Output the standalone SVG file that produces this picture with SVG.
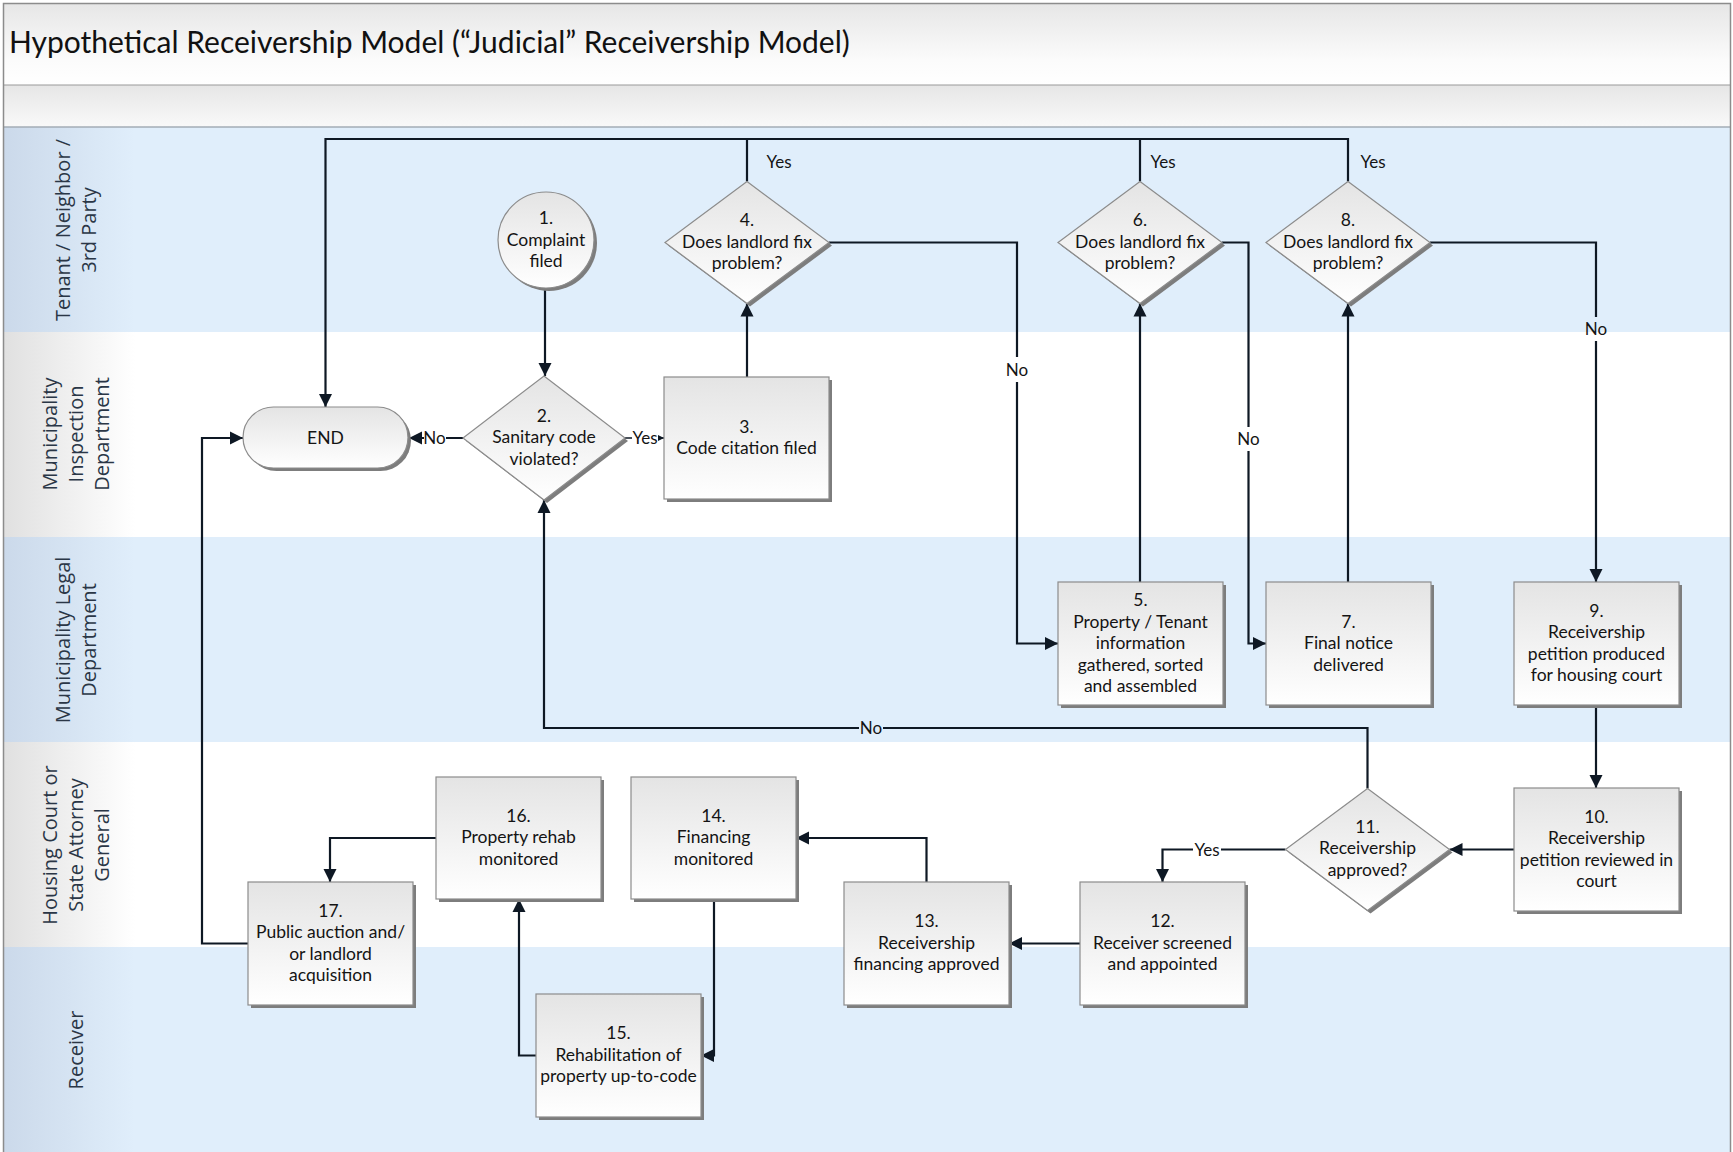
<svg xmlns="http://www.w3.org/2000/svg" width="1733" height="1152" viewBox="0 0 1733 1152">
<style>
.node{fill:url(#ng);stroke:#8c8c8c;stroke-width:1.2}
.sh{fill:#7d7d7d}
.t{font-family:Lato,'Liberation Sans',sans-serif;font-size:17.5px;fill:#141414;text-anchor:middle}
.lbl{font-family:Lato,'Liberation Sans',sans-serif;font-size:17px;fill:#141414;text-anchor:middle}
.lane{font-family:'Open Sans','DejaVu Sans',sans-serif;font-size:20px;fill:#2a3646;text-anchor:middle}
.c{fill:none;stroke:#0e1824;stroke-width:2.2}
.ca{fill:none;stroke:#0e1824;stroke-width:2.2;marker-end:url(#ah)}
.cs{fill:none;stroke:#0e1824;stroke-width:1.6;marker-end:url(#ahs)}
</style>
<defs>
<linearGradient id="ng" x1="0" y1="0" x2="0" y2="1"><stop offset="0" stop-color="#e4e4e4"/><stop offset="1" stop-color="#ffffff"/></linearGradient>
<linearGradient id="tg" x1="0" y1="0" x2="0" y2="1"><stop offset="0" stop-color="#e6e6e6"/><stop offset="0.7" stop-color="#fbfbfb"/><stop offset="1" stop-color="#ffffff"/></linearGradient>
<linearGradient id="tg2" x1="0" y1="0" x2="0" y2="1"><stop offset="0" stop-color="#e6e6e6"/><stop offset="1" stop-color="#f9f9f9"/></linearGradient>
<linearGradient id="bh" x1="0" y1="0" x2="1" y2="0"><stop offset="0" stop-color="#cbd9ea"/><stop offset="1" stop-color="#e0eefb"/></linearGradient>
<linearGradient id="wh" x1="0" y1="0" x2="1" y2="0"><stop offset="0" stop-color="#e0e0e0"/><stop offset="1" stop-color="#ffffff"/></linearGradient>
<marker id="ah" markerUnits="userSpaceOnUse" markerWidth="14" markerHeight="14" refX="13" refY="7" orient="auto"><path d="M0,0.5 L13,7 L0,13.5 Z" fill="#0e1824"/></marker>
<marker id="ahs" markerUnits="userSpaceOnUse" markerWidth="8" markerHeight="8" refX="6" refY="4" orient="auto"><path d="M0,1 L6,4 L0,7 Z" fill="#0e1824"/></marker>
</defs>

<g id="background">
<rect x="3" y="3" width="1728" height="82" fill="url(#tg)"/>
<rect x="3" y="85" width="1728" height="42" fill="url(#tg2)"/>
<rect x="3" y="127" width="1728" height="205" fill="#e0eefb"/>
<rect x="3" y="332" width="1728" height="205" fill="#ffffff"/>
<rect x="3" y="537" width="1728" height="205" fill="#e0eefb"/>
<rect x="3" y="742" width="1728" height="205" fill="#ffffff"/>
<rect x="3" y="947" width="1728" height="205" fill="#e0eefb"/>
<rect x="3" y="127" width="132" height="205" fill="url(#bh)"/>
<rect x="3" y="332" width="132" height="205" fill="url(#wh)"/>
<rect x="3" y="537" width="132" height="205" fill="url(#bh)"/>
<rect x="3" y="742" width="132" height="205" fill="url(#wh)"/>
<rect x="3" y="947" width="132" height="205" fill="url(#bh)"/>
<line x1="3" y1="85" x2="1731" y2="85" stroke="#9a9a9a" stroke-width="1.2"/>
<line x1="3" y1="127" x2="1731" y2="127" stroke="#a3acb6" stroke-width="1.5"/>
<rect x="3.5" y="3.5" width="1727" height="1152" fill="none" stroke="#8c8c8c" stroke-width="1.5"/>
<text x="9" y="53" font-family="Lato,'Liberation Sans',sans-serif" font-size="30" fill="#111">Hypothetical Receivership Model (“Judicial” Receivership Model)</text>
</g>

<g id="lanes">
<g id="lane-tenant"><text class="lane" transform="translate(70,230) rotate(-90)">Tenant / Neighbor /</text><text class="lane" transform="translate(96,230) rotate(-90)">3rd Party</text></g>
<g id="lane-inspection"><text class="lane" transform="translate(57,434) rotate(-90)">Municipality</text><text class="lane" transform="translate(83,434) rotate(-90)">Inspection</text><text class="lane" transform="translate(109,434) rotate(-90)">Department</text></g>
<g id="lane-legal"><text class="lane" transform="translate(70,640) rotate(-90)">Municipality Legal</text><text class="lane" transform="translate(96,640) rotate(-90)">Department</text></g>
<g id="lane-court"><text class="lane" transform="translate(57,845) rotate(-90)">Housing Court or</text><text class="lane" transform="translate(83,845) rotate(-90)">State Attorney</text><text class="lane" transform="translate(109,845) rotate(-90)">General</text></g>
<g id="lane-receiver"><text class="lane" transform="translate(83,1050) rotate(-90)">Receiver</text></g>
</g>

<g id="connectors">
<path class="c" d="M747,181.5 V139 M1140,181.5 V139"/>
<path class="ca" d="M1348,181.5 V139 H325.5 V407"/>
<text class="lbl" x="779" y="168">Yes</text>
<text class="lbl" x="1163" y="168">Yes</text>
<text class="lbl" x="1373" y="168">Yes</text>
<path class="ca" d="M545,288 V376"/>
<path class="ca" d="M463,438 H446 M424,438 H409"/>
<text class="lbl" x="434.5" y="444">No</text>
<path class="cs" d="M625,438 H632 M658,438 H664"/>
<text class="lbl" x="645" y="444">Yes</text>
<path class="ca" d="M747,377 V303.5"/>
<path class="ca" d="M829,242.5 H1017 V357 M1017,382 V643.5 H1058"/>
<text class="lbl" x="1017" y="376">No</text>
<path class="ca" d="M1140,582 V303.5"/>
<path class="ca" d="M1222,242.5 H1248.5 V427 M1248.5,451 V643.5 H1266"/>
<text class="lbl" x="1248.5" y="445">No</text>
<path class="ca" d="M1348,582 V303.5"/>
<path class="ca" d="M1430,242.5 H1596 V317 M1596,341 V582"/>
<text class="lbl" x="1596" y="335">No</text>
<path class="ca" d="M1596,705 V788"/>
<path class="ca" d="M1514,849.5 H1449.5"/>
<path class="ca" d="M1367.5,788.5 V728 H883 M859,728 H544 V500"/>
<text class="lbl" x="871" y="734">No</text>
<path class="ca" d="M1285.5,849.5 H1221 M1193,849.5 H1162.5 V882"/>
<text class="lbl" x="1207" y="855.5">Yes</text>
<path class="ca" d="M1080,943.5 H1009"/>
<path class="ca" d="M926.5,882 V838 H796"/>
<path class="ca" d="M714,899 V1055.5 H701"/>
<path class="ca" d="M536,1055.5 H519 V899"/>
<path class="ca" d="M436,838 H330 V882"/>
<path class="ca" d="M248,943.5 H202 V438 H243"/>
</g>

<g id="n1"><circle class="sh" cx="549" cy="243" r="48"/><circle class="node" cx="546" cy="240" r="48"/><text class="t" x="546" y="224">1.</text><text class="t" x="546" y="245.5">Complaint</text><text class="t" x="546" y="267">filed</text></g>
<g id="n-end"><rect class="sh" x="246" y="410" width="165" height="61" rx="30.5"/><rect class="node" x="243" y="407" width="165" height="61" rx="30.5"/><text class="t" x="325.5" y="444">END</text></g>
<g id="n2"><polygon class="sh" points="547,379 628,441 547,503 466,441"/><polygon class="node" points="544,376 625,438 544,500 463,438"/><text class="t" x="544" y="421.5">2.</text><text class="t" x="544" y="443">Sanitary code</text><text class="t" x="544" y="464.5">violated?</text></g>
<g id="n3"><rect class="sh" x="667" y="380" width="165" height="122"/><rect class="node" x="664" y="377" width="165" height="122"/><text class="t" x="746.5" y="432.5">3.</text><text class="t" x="746.5" y="454">Code citation filed</text></g>
<g id="n4"><polygon class="sh" points="750,184.5 832,245.5 750,306.5 668,245.5"/><polygon class="node" points="747,181.5 829,242.5 747,303.5 665,242.5"/><text class="t" x="747" y="226">4.</text><text class="t" x="747" y="247.5">Does landlord fix</text><text class="t" x="747" y="269">problem?</text></g>
<g id="n5"><rect class="sh" x="1061" y="585" width="165" height="123"/><rect class="node" x="1058" y="582" width="165" height="123"/><text class="t" x="1140.5" y="606">5.</text><text class="t" x="1140.5" y="627.5">Property / Tenant</text><text class="t" x="1140.5" y="649">information</text><text class="t" x="1140.5" y="670.5">gathered, sorted</text><text class="t" x="1140.5" y="692">and assembled</text></g>
<g id="n6"><polygon class="sh" points="1143,184.5 1225,245.5 1143,306.5 1061,245.5"/><polygon class="node" points="1140,181.5 1222,242.5 1140,303.5 1058,242.5"/><text class="t" x="1140" y="226">6.</text><text class="t" x="1140" y="247.5">Does landlord fix</text><text class="t" x="1140" y="269">problem?</text></g>
<g id="n7"><rect class="sh" x="1269" y="585" width="165" height="123"/><rect class="node" x="1266" y="582" width="165" height="123"/><text class="t" x="1348.5" y="627.5">7.</text><text class="t" x="1348.5" y="649">Final notice</text><text class="t" x="1348.5" y="670.5">delivered</text></g>
<g id="n8"><polygon class="sh" points="1351,184.5 1433,245.5 1351,306.5 1269,245.5"/><polygon class="node" points="1348,181.5 1430,242.5 1348,303.5 1266,242.5"/><text class="t" x="1348" y="226">8.</text><text class="t" x="1348" y="247.5">Does landlord fix</text><text class="t" x="1348" y="269">problem?</text></g>
<g id="n9"><rect class="sh" x="1517" y="585" width="165" height="123"/><rect class="node" x="1514" y="582" width="165" height="123"/><text class="t" x="1596.5" y="616.5">9.</text><text class="t" x="1596.5" y="638">Receivership</text><text class="t" x="1596.5" y="659.5">petition produced</text><text class="t" x="1596.5" y="681">for housing court</text></g>
<g id="n10"><rect class="sh" x="1517" y="791" width="165" height="123"/><rect class="node" x="1514" y="788" width="165" height="123"/><text class="t" x="1596.5" y="822.5">10.</text><text class="t" x="1596.5" y="844">Receivership</text><text class="t" x="1596.5" y="865.5">petition reviewed in</text><text class="t" x="1596.5" y="887">court</text></g>
<g id="n11"><polygon class="sh" points="1370.5,791.5 1452.5,852.5 1370.5,913.5 1288.5,852.5"/><polygon class="node" points="1367.5,788.5 1449.5,849.5 1367.5,910.5 1285.5,849.5"/><text class="t" x="1367.5" y="832.5">11.</text><text class="t" x="1367.5" y="854">Receivership</text><text class="t" x="1367.5" y="875.5">approved?</text></g>
<g id="n12"><rect class="sh" x="1083" y="885" width="165" height="123"/><rect class="node" x="1080" y="882" width="165" height="123"/><text class="t" x="1162.5" y="927">12.</text><text class="t" x="1162.5" y="948.5">Receiver screened</text><text class="t" x="1162.5" y="970">and appointed</text></g>
<g id="n13"><rect class="sh" x="847" y="885" width="165" height="123"/><rect class="node" x="844" y="882" width="165" height="123"/><text class="t" x="926.5" y="927">13.</text><text class="t" x="926.5" y="948.5">Receivership</text><text class="t" x="926.5" y="970">financing approved</text></g>
<g id="n14"><rect class="sh" x="634" y="780" width="165" height="122"/><rect class="node" x="631" y="777" width="165" height="122"/><text class="t" x="713.5" y="821.5">14.</text><text class="t" x="713.5" y="843">Financing</text><text class="t" x="713.5" y="864.5">monitored</text></g>
<g id="n15"><rect class="sh" x="539" y="997" width="165" height="123"/><rect class="node" x="536" y="994" width="165" height="123"/><text class="t" x="618.5" y="1039">15.</text><text class="t" x="618.5" y="1060.5">Rehabilitation of</text><text class="t" x="618.5" y="1082">property up-to-code</text></g>
<g id="n16"><rect class="sh" x="439" y="780" width="165" height="122"/><rect class="node" x="436" y="777" width="165" height="122"/><text class="t" x="518.5" y="821.5">16.</text><text class="t" x="518.5" y="843">Property rehab</text><text class="t" x="518.5" y="864.5">monitored</text></g>
<g id="n17"><rect class="sh" x="251" y="885" width="165" height="123"/><rect class="node" x="248" y="882" width="165" height="123"/><text class="t" x="330.5" y="916.5">17.</text><text class="t" x="330.5" y="938">Public auction and/</text><text class="t" x="330.5" y="959.5">or landlord</text><text class="t" x="330.5" y="981">acquisition</text></g>
</svg>
